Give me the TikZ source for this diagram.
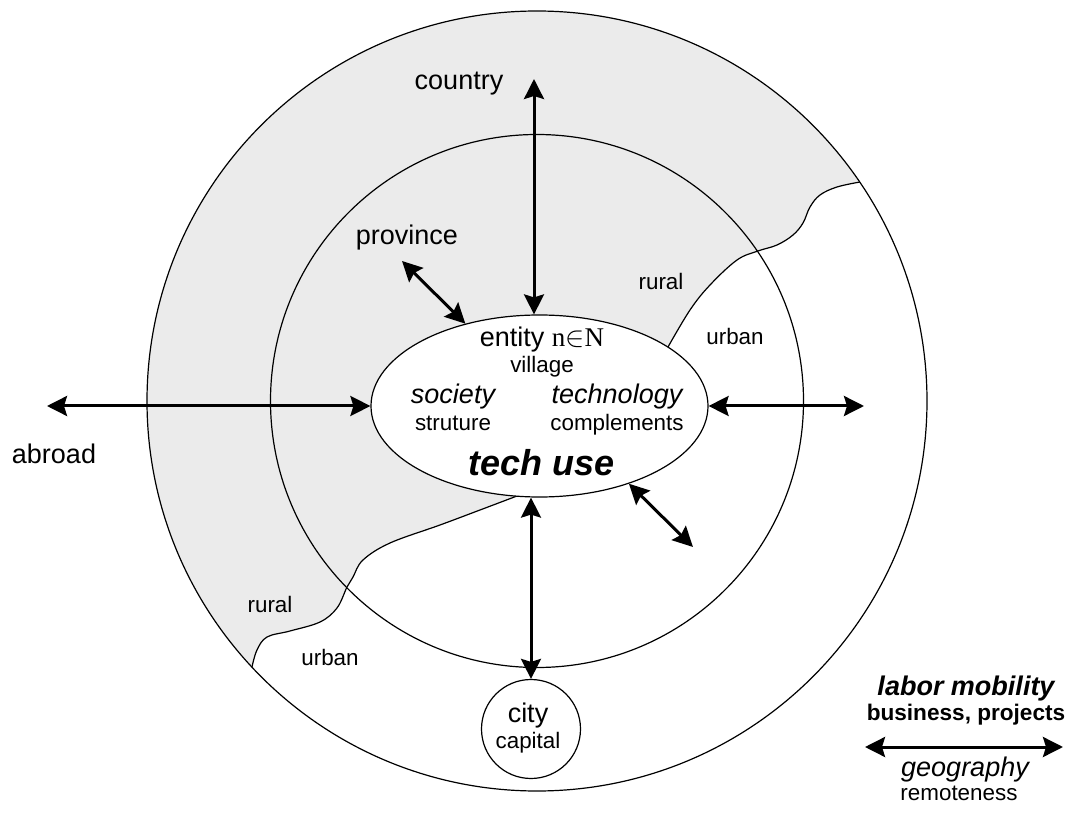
\documentclass[tikz,border=0pt]{standalone}
\usepackage{fontspec}
\setmainfont{Liberation Sans}
\newfontfamily\seriffont{Liberation Serif}
\usetikzlibrary{arrows.meta,shapes.geometric}
\definecolor{ruralgray}{RGB}{235,235,235}

\begin{document}
\begin{tikzpicture}[x=0.5pt,y=-0.5pt,
        lbl/.style={anchor=base, font=\fontsize{13.5}{16}\selectfont},
        sublbl/.style={anchor=base, font=\fontsize{11.2}{13}\selectfont},
        biarrow/.style={line width=1.5pt, {Stealth[length=10pt,width=10pt,inset=1.5pt]}-{Stealth[length=10pt,width=10pt,inset=1.5pt]}},
        ring/.style={circle, draw, line width=0.6pt, inner sep=0pt}]
        \useasboundingbox (0,0) rectangle (1072,818);

        \begin{scope}
            \clip (537,401) circle[radius=390];
            \filldraw[fill=ruralgray, line width=0.6pt] (1020,73)
                -- plot[smooth, tension=0.6] coordinates {(860,182) (837,187) (820,195) (810,207) (803,223) (793,235) (777,245) (758,251) (737,260) (710,285) (690,310) (668,347)}
                -- plot[smooth, tension=0.6] coordinates {(517,496) (480,510) (440,525) (390,543) (363,560) (353,577) (347,587) (337,608) (320,622) (290,631) (267,637) (257,650) (252,667)}
                -- (100,810) -- (0,818) -- (0,0) -- (1072,0) -- cycle;
        \end{scope}

        \node[ring, minimum size=390pt] (countryring) at (537,401) {};
        \node[ring, minimum size=266.5pt] (provring) at (537,401) {};
        \node[ellipse, draw, fill=white, line width=0.6pt, inner sep=0pt, minimum width=168.5pt, minimum height=91pt] (entity) at (539.5,406) {};
        \node[ring, fill=white, minimum size=49.5pt] (city) at (531,729) {};

        \node[lbl] (country) at (459,90) {country};
        \node[lbl] (province) at (407,245) {province};
        \node[lbl] (abroad) at (54,464) {abroad};
        \node[sublbl] (ruralup) at (661,290) {rural};
        \node[sublbl] (urbanup) at (735,345) {urban};
        \node[sublbl] (rurallow) at (270,612) {rural};
        \node[sublbl] (urbanlow) at (330,665) {urban};

        \node[lbl] (entityname) at (542,347) {entity {\seriffont n}$\in${\seriffont N}};
        \node[sublbl] (village) at (542,373) {village};
        \node[lbl, font=\fontsize{13.5}{16}\selectfont\itshape] (society) at (453,404) {society};
        \node[sublbl] (struture) at (453,430) {struture};
        \node[lbl, font=\fontsize{13.5}{16}\selectfont\itshape] (technology) at (617,404) {technology};
        \node[sublbl] (complements) at (617,430) {complements};
        \node[anchor=base, font=\fontsize{18}{21}\selectfont\bfseries\itshape] (techuse) at (542,475) {tech use};

        \node[lbl] (cityname) at (528,722) {city};
        \node[sublbl] (capital) at (528,748) {capital};

        \node[lbl, font=\fontsize{13.5}{16}\selectfont\bfseries\itshape] (labor) at (966,695) {labor mobility};
        \node[sublbl, font=\fontsize{11.3}{13}\selectfont\bfseries] (business) at (966,720) {business, projects};
        \node[lbl, font=\fontsize{13.5}{16}\selectfont\itshape] (geography) at (965,776) {geography};
        \node[sublbl] (remoteness) at (959,800) {remoteness};

        \coordinate (countryend) at (534,79);
        \coordinate (abroadend) at (47,406);
        \coordinate (eastend) at (864,406);
        \coordinate (provend) at (402,261);
        \coordinate (southeastend) at (693,547);
        \coordinate (legendleft) at (865,747);
        \coordinate (legendright) at (1063,747);

        \draw[biarrow] (countryend) -- (countryend |- entity.north);
        \draw[biarrow] (abroadend) -- (entity.west);
        \draw[biarrow] (entity.east) -- (eastend);
        \draw[biarrow] (provend) -- (entity.132);
        \draw[biarrow] (entity.-41) -- (southeastend);
        \draw[biarrow] (city.north |- entity.south) -- (city.north);
        \draw[biarrow] (legendleft) -- (legendright);
    \end{tikzpicture}
\end{document}
